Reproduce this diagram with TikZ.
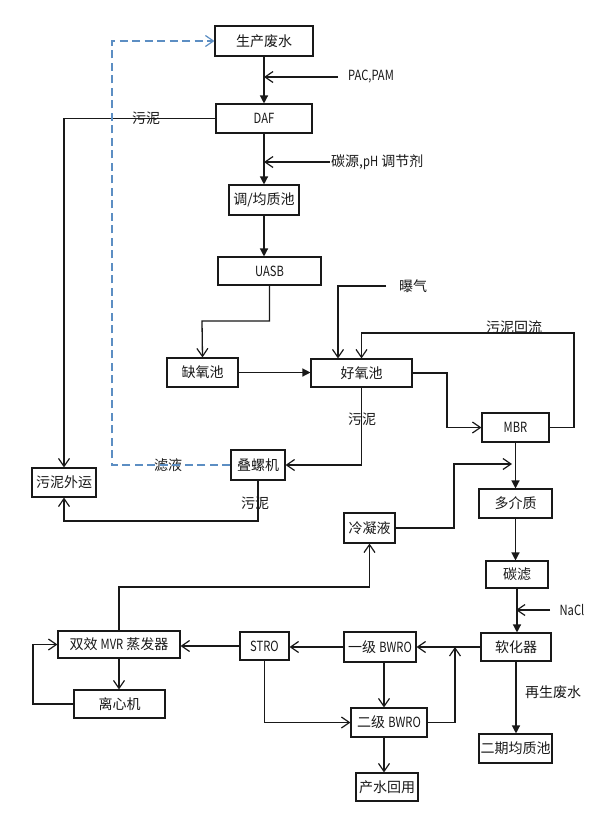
\documentclass[tikz,border=0pt]{standalone}
\usepackage{fontspec}
\setmainfont{Noto Sans CJK SC}
\newfontfamily\lt[FakeStretch=0.8]{Noto Sans CJK SC}
\usetikzlibrary{arrows.meta,calc}
\definecolor{dashblue}{RGB}{92,142,195}
\definecolor{ink}{RGB}{25,25,25}
\tikzset{
  box/.style={draw=ink, line width=1.1pt, inner sep=0pt, text=ink, font=\fontsize{14}{15}\selectfont},
  lbl/.style={inner sep=1pt, text=ink, font=\fontsize{14}{15}\selectfont},
  conn/.style={draw=ink, line width=1.3pt},
  openar/.style={conn, -{Straight Barb[length=8pt,width=11pt,line width=1.2pt]}},
  fillar/.style={conn, -{Triangle[length=8pt,width=8pt]}},
  dashar/.style={draw=dashblue, line width=1.3pt, dash pattern=on 8pt off 4.5pt, -{Straight Barb[length=8pt,width=11pt,line width=1.2pt]}}
}
\begin{document}
\begin{tikzpicture}[x=1pt,y=-1pt]
\useasboundingbox[fill=white] (0,0) rectangle (609,831);
% boxes
\node[box, minimum width=98, minimum height=30] (n1) at (264,41) {生产废水};
\node[box, minimum width=96, minimum height=29] (n2) at (264,118.5) {\lt DAF};
\node[box, minimum width=70, minimum height=30] (n3) at (264,200) {调/均质池};
\node[box, minimum width=103, minimum height=28] (n4) at (269.5,271) {\lt UASB};
\node[box, minimum width=71, minimum height=29] (n5) at (202.5,372.5) {缺氧池};
\node[box, minimum width=101, minimum height=28] (n6) at (361.5,373) {好氧池};
\node[box, minimum width=67, minimum height=29] (n7) at (515.5,427.5) {\lt MBR};
\node[box, minimum width=54, minimum height=30] (n8) at (258,465) {叠螺机};
\node[box, minimum width=64, minimum height=29] (n9) at (64,482.5) {污泥外运};
\node[box, minimum width=73, minimum height=29] (n10) at (515.5,503.5) {多介质};
\node[box, minimum width=51, minimum height=30] (n11) at (369.5,528) {冷凝液};
\node[box, minimum width=62, minimum height=27] (n12) at (517,574.5) {碳滤};
\node[box, minimum width=70, minimum height=28] (n13) at (516,647) {软化器};
\node[box, minimum width=72, minimum height=30] (n14) at (380,647) {一级 {\lt BWRO}};
\node[box, minimum width=49, minimum height=28] (n15) at (264.5,646) {\lt STRO};
\node[box, minimum width=122, minimum height=27] (n16) at (119,644.5) {双效 {\lt MVR} 蒸发器};
\node[box, minimum width=91, minimum height=28] (n17) at (119.5,704) {离心机};
\node[box, minimum width=76, minimum height=29] (n18) at (389,722.5) {二级 {\lt BWRO}};
\node[box, minimum width=73, minimum height=29] (n19) at (515.5,748.5) {二期均质池};
\node[box, minimum width=62, minimum height=28] (n20) at (387,787) {产水回用};
% labels
\node[lbl] (lpac) at (371,77) {\lt PAC,PAM};
\node[lbl, anchor=west] (lcarb) at (330,162) {碳源,{\lt pH} 调节剂};
\node[lbl] (lqi) at (413,286) {曝气};
\node[lbl] (lhl) at (514,327) {污泥回流};
\node[lbl] (lwn1) at (146,118) {污泥};
\node[lbl] (lwn2) at (362,419) {污泥};
\node[lbl] (lwn3) at (255,503) {污泥};
\node[lbl] (lly) at (168,465) {滤液};
\node[lbl] (lnacl) at (572,610) {\lt NaCl};
\node[lbl] (lzs) at (553,692) {再生废水};
% helper coordinates
\coordinate (k1) at (202,321);
\coordinate (k2) at (338,0);
\coordinate (q0) at (386,286);
\coordinate (k3) at (574,333);
\coordinate (k4) at (447,0);
\coordinate (k5) at (0,521);
\coordinate (k6) at (112,0);
\coordinate (k7) at (454,464);
\coordinate (k8) at (512,464);
\coordinate (q1) at (550,610);
\coordinate (k9) at (455,0);
\coordinate (k10) at (33,0);
\coordinate (k11) at (0,587);
\coordinate (c384) at (384,0);
\coordinate (p0) at (338,77);
\coordinate (p1) at (330,162);
% connectors
\draw[fillar] (n1.south) -- (n2.north);
\draw[openar] (p0) -- (p0 -| n1.south);
\draw[fillar] (n2.south) -- (n3.north);
\draw[openar] (p1) -- (p1 -| n2.south);
\draw[fillar] (n3.south) -- (n3.south |- n4.north);
\draw[openar] (n4.south) |- (k1) -- (n5.north);
\draw[fillar] (n5.east) -- (n5.east -| n6.west);
\draw[openar] (q0) -| (k2 |- n6.north);
\draw[openar] (n7.east) -| (k3) -| (n6.north);
\draw[openar] (n6.east) -| (k4 |- n7.west) -- (n7.west);
\draw[openar] (n6.south) |- (n8.east);
\draw[openar] (n8.south) -- (n8.south |- k5) -| (n9.south);
\draw[openar] (n2.west) -| (n9.north);
\draw[dashar] (n8.west) -| (k6 |- n1.west) -- (n1.west);
\draw[fillar] (n7.south) -- (n7.south |- n10.north);
\draw[openar] (n11.east) -| (k7) -- (k8);
\draw[fillar] (n10.south) -- (n10.south |- n12.north);
\draw[fillar] (n12.south) -- (n12.south |- n13.north);
\draw[openar] (q1) -- (q1 -| n13.north);
\draw[openar] (n13.west) -- (n14.east);
\draw[fillar] (n13.south) -- (n13.south |- n19.north);
\draw[openar] (n14.west) -- (n14.west -| n15.east);
\draw[openar] (n15.west) -- (n15.west -| n16.east);
\draw[openar] (c384 |- n14.south) -- (c384 |- n18.north);
\draw[openar] (n15.south) |- (n18.west);
\draw[openar] (n18.east) -| (k9 |- n13.west);
\draw[openar] (c384 |- n18.south) -- (c384 |- n20.north);
\draw[openar] (n16.south) -- (n16.south |- n17.north);
\draw[openar] (n17.west) -| (k10 |- n16.west) -- (n16.west);
\draw[openar] (n16.north) -- (n16.north |- k11) -| (n11.south);
\end{tikzpicture}
\end{document}
